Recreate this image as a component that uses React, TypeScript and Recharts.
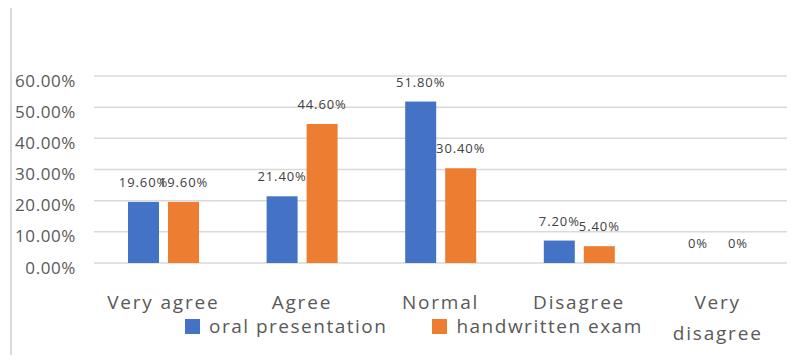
import React from 'react';
import {
  BarChart,
  Bar,
  XAxis,
  YAxis,
  CartesianGrid,
  Legend
} from 'recharts';

const categories = ['Very agree', 'Agree', 'Normal', 'Disagree', 'Very disagree'];
const oralPresentation = [19.6, 21.4, 51.8, 7.2, 0];
const handwrittenExam = [19.6, 44.6, 30.4, 5.4, 0];
const yTicks = [0, 10, 20, 30, 40, 50, 60];

const seriesNames = ['oral presentation', 'handwritten exam'];
const colors = ['#4472C4', '#ED7D31'];

const data = categories.map((name, i) => ({
  name,
  oral: oralPresentation[i],
  handwritten: handwrittenExam[i]
}));

const font = '"Open Sans", sans-serif';

// Excel style: 0 shows as "0%", everything else with two decimals
const fmtLabel = (v: number) => (v === 0 ? '0%' : `${v.toFixed(2)}%`);

const YTick = (props: any) => {
  const { x, y, payload } = props;
  return (
    <text
      x={x}
      y={y + 4}
      textAnchor="end"
      dominantBaseline="central"
      fill="#595959"
      fontSize={17}
      fontFamily={font}
      letterSpacing={0.6}
    >
      {`${payload.value.toFixed(2)}%`}
    </text>
  );
};

const XTick = (props: any) => {
  const { x, payload } = props;
  // long labels wrap onto a second line, like Excel does in the narrow band
  const words: string[] = payload.value.length > 11 ? payload.value.split(' ') : [payload.value];
  return (
    <text
      x={x}
      y={302}
      textAnchor="middle"
      fill="#595959"
      fontSize={19}
      fontFamily={font}
      letterSpacing={1.8}
    >
      {words.map((w, i) => (
        <tspan key={i} x={x} dy={i === 0 ? 0 : 31} dominantBaseline="central">
          {w}
        </tspan>
      ))}
    </text>
  );
};

// bar + its value label drawn together so zero-height bars still get "0%"
const makeShape = (key: 'oral' | 'handwritten') => (props: any) => {
  const { x, y, width, height, fill, payload } = props;
  const value: number = payload[key];
  return (
    <g>
      {height > 0 && <rect x={x} y={y} width={width} height={height} fill={fill} />}
      <text
        x={x + width / 2}
        y={y - 20}
        textAnchor="middle"
        dominantBaseline="central"
        fill="#404040"
        fontSize={13}
        fontFamily={font}
        letterSpacing={0.9}
      >
        {fmtLabel(value)}
      </text>
    </g>
  );
};

const LegendContent = () => (
  <div style={{ display: 'flex', alignItems: 'center', fontFamily: font, fontSize: 19, color: '#595959', letterSpacing: 1.5 }}>
    {seriesNames.map((n, i) => (
      <div key={n} style={{ display: 'flex', alignItems: 'center', marginRight: i === 0 ? 45 : 0 }}>
        <span style={{ width: 15, height: 15, background: colors[i], display: 'inline-block', marginRight: 9 }} />
        <span style={{ lineHeight: '20px' }}>{n}</span>
      </div>
    ))}
  </div>
);

export default function App() {
  return (
    <div style={{ position: 'relative', width: 806, height: 363, margin: -8, background: '#fff' }}>
      <div
        style={{
          position: 'absolute',
          left: 10,
          top: 4,
          width: 796,
          height: 359,
          borderTop: '2px solid #d9d9d9',
          borderLeft: '2px solid #d9d9d9'
        }}
      />
      <BarChart
        width={806}
        height={363}
        data={data}
        margin={{ top: 76, right: 19, bottom: 0, left: 14 }}
        barSize={31}
        barGap={9}
      >
        <CartesianGrid vertical={false} stroke="#d9d9d9" strokeWidth={1.5} />
        <XAxis
          dataKey="name"
          height={100}
          axisLine={false}
          tickLine={false}
          interval={0}
          tick={<XTick />}
        />
        <YAxis
          width={80}
          domain={[0, 60]}
          ticks={yTicks}
          axisLine={false}
          tickLine={false}
          tickSize={6}
          tickMargin={12}
          tick={<YTick />}
        />
        <Legend
          layout="horizontal"
          verticalAlign="middle"
          align="center"
          content={<LegendContent />}
          wrapperStyle={{ position: 'absolute', top: 316, left: 185, width: 'auto' }}
        />
        <Bar
          dataKey="oral"
          name={seriesNames[0]}
          fill={colors[0]}
          shape={makeShape('oral')}
          isAnimationActive={false}
        />
        <Bar
          dataKey="handwritten"
          name={seriesNames[1]}
          fill={colors[1]}
          shape={makeShape('handwritten')}
          isAnimationActive={false}
        />
      </BarChart>
    </div>
  );
}
